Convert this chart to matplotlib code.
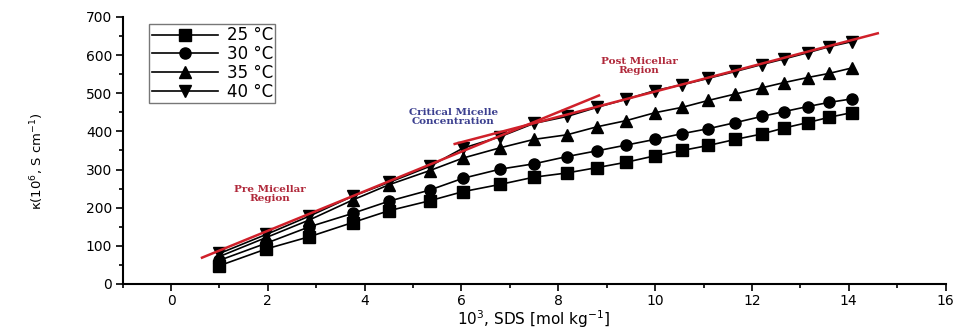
import matplotlib
matplotlib.use("Agg")
import matplotlib.pyplot as plt
from matplotlib.ticker import MultipleLocator

conc = [1.0, 1.97, 2.86, 3.75, 4.5, 5.34, 6.03, 6.8, 7.5, 8.18, 8.8, 9.4,
        10.0, 10.56, 11.1, 11.66, 12.2, 12.67, 13.15, 13.6, 14.06]
k25 = [48, 92, 124, 161, 192, 218, 242, 261, 280, 291, 305, 319,
       336, 350, 363, 379, 393, 409, 423, 437, 449]
k30 = [62, 107, 150, 185, 217, 246, 277, 301, 315, 334, 349, 364,
       379, 394, 407, 423, 439, 452, 465, 476, 485]
k35 = [72, 122, 168, 220, 260, 297, 330, 357, 379, 391, 412, 428,
       449, 463, 481, 498, 514, 528, 541, 552, 566]
k40 = [80, 130, 178, 230, 266, 308, 356, 386, 421, 439, 463, 484,
       507, 522, 539, 557, 575, 590, 606, 622, 635]
labels = ["25 °C", "30 °C", "35 °C", "40 °C"]
markers = ["s", "o", "^", "v"]

pre_x = [0.64, 8.84]
pre_y = [69, 494]
post_x = [5.86, 14.6]
post_y = [367, 657]

fig = plt.figure(figsize=(9.58, 3.31), dpi=100)
ax = fig.add_axes([0.128, 0.142, 0.859, 0.807])

for ys, lab, m in zip([k25, k30, k35, k40], labels, markers):
    ax.plot(conc, ys, color="black", marker=m, markersize=8, linewidth=1.2,
            label=lab)

ax.plot(pre_x, pre_y, color="#d0202a", linewidth=1.8, zorder=5)
ax.plot(post_x, post_y, color="#d0202a", linewidth=1.8, zorder=5)

ann = dict(fontsize=7.5, fontweight="bold", family="DejaVu Serif",
           ha="center", va="center", linespacing=0.95)
ax.text(2.05, 235, "Pre Micellar\nRegion", color="#b0283a", **ann)
ax.text(5.83, 437, "Critical Micelle\nConcentration", color="#3b3f8f", **ann)
ax.text(9.67, 572, "Post Micellar\nRegion", color="#b0283a", **ann)

ax.set_xlim(-1, 16)
ax.set_ylim(0, 700)
ax.xaxis.set_major_locator(MultipleLocator(2))
ax.xaxis.set_minor_locator(MultipleLocator(1))
ax.yaxis.set_major_locator(MultipleLocator(100))
ax.yaxis.set_minor_locator(MultipleLocator(50))
ax.tick_params(which="both", direction="out", width=1.2, labelsize=10, pad=2.5)
ax.tick_params(which="major", length=5)
ax.tick_params(which="minor", length=3)
for s in ["top", "right"]:
    ax.spines[s].set_visible(False)
for s in ["left", "bottom"]:
    ax.spines[s].set_linewidth(1.5)

ax.set_xlabel("10$^3$, SDS [mol kg$^{-1}$]", fontsize=11)
ax.xaxis.set_label_coords(0.5, -0.092)
ax.set_ylabel("κ(10$^6$, S cm$^{-1}$)", fontsize=9.5)
ax.yaxis.set_label_coords(-0.093, 0.46)

leg = ax.legend(loc="upper left", bbox_to_anchor=(0.022, 1.005), fontsize=12,
                handlelength=4.0, frameon=True, fancybox=False,
                edgecolor="#555555", borderpad=0.15, labelspacing=0.05,
                handletextpad=0.5)
leg.get_frame().set_linewidth(1.0)

fig.savefig("out.png", dpi=100)
